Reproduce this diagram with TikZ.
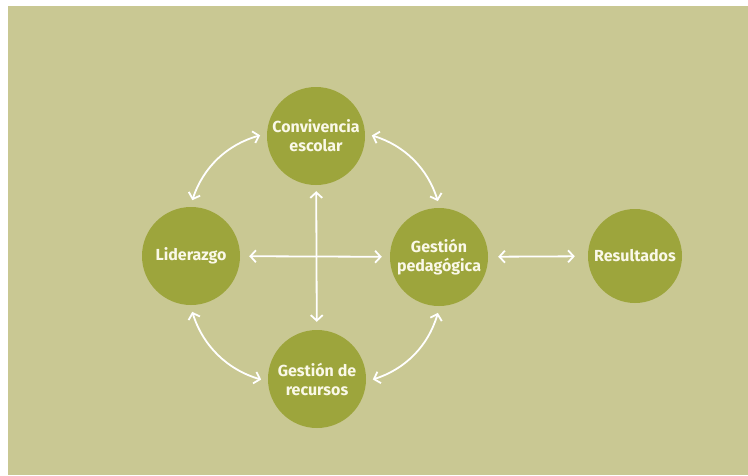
\documentclass[tikz,border=0pt]{standalone}
\usepackage{fontspec}
\setmainfont{Fira Sans}
\usetikzlibrary{arrows.meta}
\definecolor{bgolive}{RGB}{201,200,147}
\definecolor{discolive}{RGB}{157,165,60}
\definecolor{creamtext}{RGB}{250,248,232}
\tikzset{
  disc/.style={circle, fill=discolive, minimum size=98pt, inner sep=0pt,
    text=creamtext, font=\fontsize{16}{19}\selectfont\bfseries, align=center},
  link/.style={draw=white, line width=1.8pt,
    {Straight Barb[length=5.5pt,width=12pt,line width=1.8pt]}-{Straight Barb[length=5.5pt,width=12pt,line width=1.8pt]},
    shorten <=7pt, shorten >=7pt}
}
\begin{document}
\begin{tikzpicture}[x=1pt,y=-1pt]
  \useasboundingbox (0,0) rectangle (748,475);
  \fill[white] (0,0) rectangle (748,475);
  \fill[bgolive] (8,6) rectangle (748,475);

  \node[disc] (con) at (316,136) {Convivencia\\escolar};
  \node[disc] (lid) at (191,256) {Liderazgo};
  \node[disc] (ped) at (439,257) {Gestión\\pedagógica};
  \node[disc] (rec) at (317,379) {Gestión de\\recursos};
  \node[disc, minimum size=94pt] (res) at (635,256) {Resultados};

  % links around the ring
  \draw[link] (lid.91) to[bend left=28] (con.177);
  \draw[link] (con.3) to[bend left=28] (ped.89);
  \draw[link] (lid.269) to[bend right=28] (rec.183);
  \draw[link] (rec.357) to[bend right=28] (ped.271);

  % cross through the middle
  \draw[link, shorten <=9pt, shorten >=8pt] (lid) -- (ped);
  \draw[link, shorten <=6pt, shorten >=8pt] (con) -- (rec);

  % outcome
  \draw[link, shorten <=10pt, shorten >=13pt] (ped) -- (res);
\end{tikzpicture}
\end{document}
